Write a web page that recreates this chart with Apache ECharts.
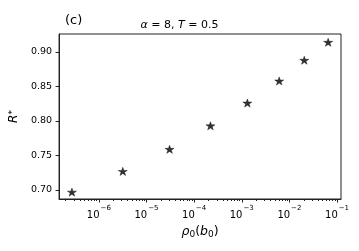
<!DOCTYPE html>
<html><head><meta charset="utf-8">
<script src="https://cdn.jsdelivr.net/npm/echarts@6/dist/echarts.min.js"></script>
<style>html,body{margin:0;padding:0;background:#fff}#c{width:359px;height:251px}</style>
</head><body><div id="c"></div>
<script>
const rho0 = [2.72e-7, 3.18e-6, 3.05e-5, 2.2e-4, 1.31e-3, 6.1e-3, 2.05e-2, 6.5e-2];
const Rstar = [0.697, 0.727, 0.759, 0.793, 0.826, 0.858, 0.888, 0.914];
const xMajorTicks = [1e-6, 1e-5, 1e-4, 1e-3, 1e-2, 1e-1];
const yTicks = [0.70, 0.75, 0.80, 0.85, 0.90];
const xMin = 1.46e-7, xMax = 0.121, yMin = 0.687, yMax = 0.926;

const minorTicks = [];
for (let e = -7; e <= -1; e++) for (let m = 2; m <= 9; m++) {
  const v = m * Math.pow(10, e);
  if (v > xMin && v < xMax) minorTicks.push(v);
}
const FONT = 'DejaVu Sans';
const star = 'path://M0,-10 L2.245,-3.09 L9.51,-3.09 L3.633,1.18 L5.878,8.09 L0,3.82 L-5.878,8.09 L-3.633,1.18 L-9.51,-3.09 L-2.245,-3.09 Z';

const chart = echarts.init(document.getElementById('c'), null, {renderer: 'canvas'});
chart.setOption({
  animation: false,
  backgroundColor: '#fff',
  title: [
    {text: '(c)', left: 60, top: 9, textStyle: {fontFamily: FONT, fontSize: 13, fontWeight: 'normal', color: '#000'}},
    {text: '{i|α} = 8, {i|T} = 0.5', left: 'center', top: 15,
     textStyle: {fontFamily: FONT, fontSize: 11, fontWeight: 'normal', color: '#000',
       rich: {i: {fontFamily: FONT, fontSize: 11, fontStyle: 'italic', color: '#000'}}}}
  ],
  grid: {left: 58, right: 18, top: 34, bottom: 52, show: true, borderColor: '#222', borderWidth: 1, backgroundColor: 'transparent'},
  xAxis: [
    {type: 'log', min: xMin, max: xMax, gridIndex: 0,
     axisLine: {show: true, onZero: false, lineStyle: {color: '#222', width: 1}},
     axisTick: {show: true, length: 3.5, lineStyle: {color: '#222'}, customValues: xMajorTicks},
     splitLine: {show: false}, minorTick: {show: false},
     axisLabel: {customValues: xMajorTicks, margin: 6, color: '#000',
       formatter: function (v) { const e = Math.round(Math.log10(v)); return '{b|10}{s|−' + Math.abs(e) + '}'; },
       rich: {b: {fontFamily: FONT, fontSize: 10, color: '#000', padding: [5, 0, 0, 0]},
              s: {fontFamily: FONT, fontSize: 7, color: '#000', verticalAlign: 'top', padding: [0, 0, 0, 1]}}},
     name: '{i|ρ}{sub|0}({i|b}{sub|0})', nameLocation: 'middle', nameGap: 21,
     nameTextStyle: {fontFamily: FONT, fontSize: 12.5, color: '#000',
       rich: {i: {fontFamily: FONT, fontSize: 12.5, fontStyle: 'italic', color: '#000'},
              sub: {fontFamily: FONT, fontSize: 9, color: '#000', verticalAlign: 'bottom', padding: [6, 0, 0, 0]}}}
    },
    {type: 'log', min: xMin, max: xMax, gridIndex: 0, position: 'bottom',
     axisLine: {show: false}, splitLine: {show: false},
     axisTick: {show: true, length: 2, lineStyle: {color: '#222'}, customValues: minorTicks},
     axisLabel: {show: false}}
  ],
  yAxis: {type: 'value', min: yMin, max: yMax,
    axisLine: {show: true, lineStyle: {color: '#222', width: 1}},
    axisTick: {show: true, length: 3.5, lineStyle: {color: '#222'}, customValues: yTicks},
    splitLine: {show: false},
    axisLabel: {customValues: yTicks, margin: 7, fontFamily: FONT, fontSize: 9.5, color: '#000',
      formatter: v => v.toFixed(2)},
    name: '{i|R}{sup|*}', nameLocation: 'middle', nameGap: 33, nameRotate: 90,
    nameTextStyle: {fontFamily: FONT, fontSize: 12, color: '#000',
      rich: {i: {fontFamily: FONT, fontSize: 12, fontStyle: 'italic', color: '#000'},
             sup: {fontFamily: FONT, fontSize: 9, color: '#000', verticalAlign: 'top'}}}
  },
  series: [{
    type: 'scatter', xAxisIndex: 0, yAxisIndex: 0,
    data: rho0.map((x, i) => [x, Rstar[i]]),
    symbol: star, symbolSize: [9, 8.5], symbolKeepAspect: true,
    itemStyle: {color: '#000', borderColor: '#000', borderWidth: 0.5}, emphasis: {disabled: true}
  }]
});
</script></body></html>
